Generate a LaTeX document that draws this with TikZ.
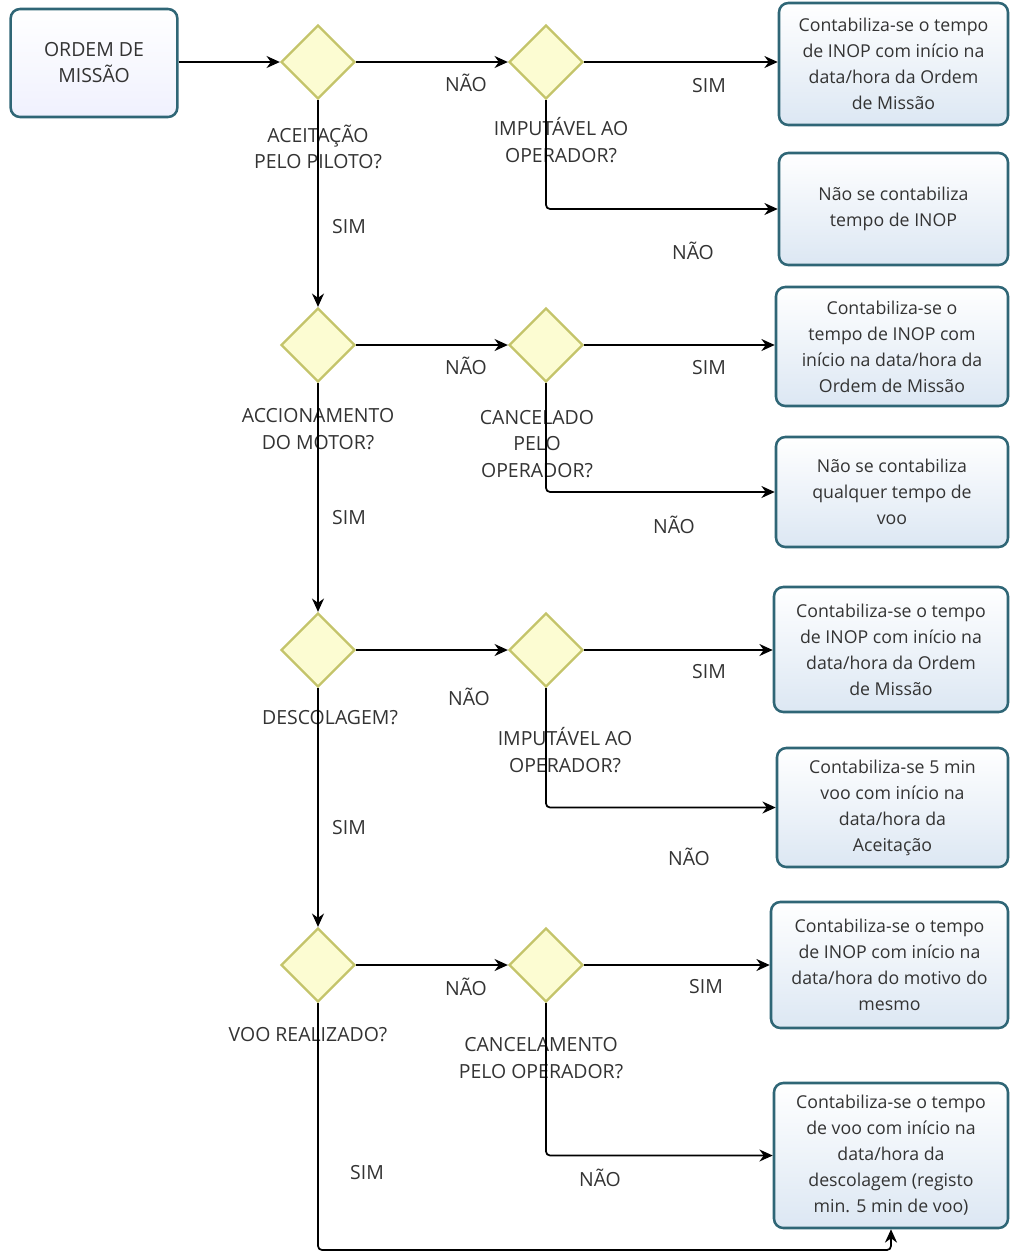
\documentclass[tikz,border=0pt]{standalone}
\usepackage{fontspec}
\setmainfont{Open Sans}
\usetikzlibrary{shapes.geometric,arrows.meta}
\definecolor{boxline}{HTML}{2F6676}
\definecolor{boxtop}{HTML}{FFFFFF}
\definecolor{boxbot}{HTML}{DCE7F3}
\definecolor{dfill}{HTML}{FCFCD2}
\definecolor{dline}{HTML}{C4C46A}
\definecolor{txt}{HTML}{333333}
\tikzset{
  rbox/.style={draw=boxline, line width=1.9pt, rounded corners=7pt,
    top color=boxtop, bottom color=boxbot, align=center, inner sep=2pt,
    text=txt, font=\fontsize{13.3}{19.5}\selectfont},
  dec/.style={diamond, draw=dline, fill=dfill, line width=1.7pt, aspect=1,
    minimum width=55.5pt, minimum height=55.5pt, inner sep=0pt},
  lbl/.style={align=center, text=txt, font=\fontsize{14.6}{19.8}\selectfont, inner sep=0pt},
  arr/.style={draw=black, line width=1.3pt, rounded corners=3pt,
    -{Stealth[length=10pt,width=9pt]}},
}
\begin{document}
\begin{tikzpicture}[x=0.75pt,y=-0.75pt]
\useasboundingbox (0,0) rectangle (1010,1254);
% boxes
\node[rbox, minimum width=125pt, minimum height=81pt, bottom color=boxbot!70!blue!15!white, font=\fontsize{14.6}{19.5}\selectfont] (om) at (94,63) {ORDEM DE\\MISSÃO};
\node[rbox, minimum width=229*0.75pt, minimum height=122*0.75pt] (r1) at (893.5,64) {Contabiliza-se o tempo\\de INOP com início na\\data/hora da Ordem\\de Missão};
\node[rbox, minimum width=229*0.75pt, minimum height=112*0.75pt] (r2) at (893.5,209) {Não se contabiliza\\tempo de INOP};
\node[rbox, minimum width=232*0.75pt, minimum height=119*0.75pt] (r3) at (892,346.5) {Contabiliza-se o\\tempo de INOP com\\início na data/hora da\\Ordem de Missão};
\node[rbox, minimum width=232*0.75pt, minimum height=110*0.75pt] (r4) at (892,492) {Não se contabiliza\\qualquer tempo de\\voo};
\node[rbox, minimum width=234*0.75pt, minimum height=125*0.75pt] (r5) at (891,649.5) {Contabiliza-se o tempo\\de INOP com início na\\data/hora da Ordem\\de Missão};
\node[rbox, minimum width=231*0.75pt, minimum height=119*0.75pt] (r6) at (892.5,807.5) {Contabiliza-se 5 min\\voo com início na\\data/hora da\\Aceitação};
\node[rbox, minimum width=237*0.75pt, minimum height=126*0.75pt] (r7) at (889.5,965) {Contabiliza-se o tempo\\de INOP com início na\\data/hora do motivo do\\mesmo};
\node[rbox, minimum width=234*0.75pt, minimum height=145*0.75pt] (r8) at (891,1155.5) {Contabiliza-se o tempo\\de voo com início na\\data/hora da\\descolagem (registo\\min. 5 min de voo)};
% diamonds
\node[dec] (d1) at (318,62) {};
\node[dec] (d2) at (546,62) {};
\node[dec] (d3) at (318,345) {};
\node[dec] (d4) at (546,345) {};
\node[dec] (d5) at (318,650) {};
\node[dec] (d6) at (546,650) {};
\node[dec] (d7) at (318,965) {};
\node[dec] (d8) at (546,965) {};
% labels
\node[lbl] (l1) at (318,147) {ACEITAÇÃO\\PELO PILOTO?};
\node[lbl] (l2) at (561,140) {IMPUTÁVEL AO\\OPERADOR?};
\node[lbl] (l3) at (318,429) {ACCIONAMENTO\\DO MOTOR?};
\node[lbl] (l4) at (537,444) {CANCELADO\\PELO\\OPERADOR?};
\node[lbl] (l5) at (330,718) {DESCOLAGEM?};
\node[lbl] (l6) at (565,750) {IMPUTÁVEL AO\\OPERADOR?};
\node[lbl] (l7) at (308,1035) {VOO REALIZADO?};
\node[lbl] (l8) at (541,1058) {CANCELAMENTO\\PELO OPERADOR?};
\node[lbl] (n1) at (466,83) {NÃO};
\node[lbl] (s1) at (709,86) {SIM};
\node[lbl] (n2) at (693,251) {NÃO};
\node[lbl] (s2) at (349,227) {SIM};
\node[lbl] (n3) at (466,366) {NÃO};
\node[lbl] (s3) at (709,368) {SIM};
\node[lbl] (n4) at (674,525) {NÃO};
\node[lbl] (s4) at (349,518) {SIM};
\node[lbl] (n5) at (469,697) {NÃO};
\node[lbl] (s5) at (709,672) {SIM};
\node[lbl] (n6) at (689,857) {NÃO};
\node[lbl] (s6) at (349,828) {SIM};
\node[lbl] (n7) at (466,987) {NÃO};
\node[lbl] (s7) at (706,987) {SIM};
\node[lbl] (n8) at (600,1178) {NÃO};
\node[lbl] (s8) at (367,1173) {SIM};
% connectors
\draw[arr] (om.east |- d1.west) -- (d1.west);
\draw[arr] (d1.east) -- (d2.west);
\draw[arr] (d2.east) -- (d2.east -| r1.west);
\draw[arr] (d2.south) |- (r2.west);
\draw[arr] (d1.south) -- (d3.north);
\draw[arr] (d3.east) -- (d4.west);
\draw[arr] (d4.east) -- (d4.east -| r3.west);
\draw[arr] (d4.south) |- (r4.west);
\draw[arr] (d3.south) -- (d5.north);
\draw[arr] (d5.east) -- (d6.west);
\draw[arr] (d6.east) -- (d6.east -| r5.west);
\draw[arr] (d6.south) |- (r6.west);
\draw[arr] (d5.south) -- (d7.north);
\draw[arr] (d7.east) -- (d8.west);
\draw[arr] (d8.east) -- (d8.east -| r7.west);
\draw[arr] (d8.south) |- (r8.west);
\coordinate (cb) at (318,1250);
\draw[arr] (d7.south) -- (cb) -| (r8.south);
\end{tikzpicture}
\end{document}
